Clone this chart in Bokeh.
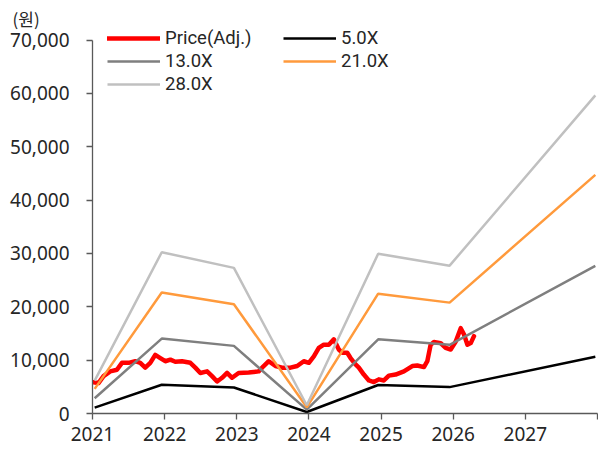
from bokeh.plotting import figure
from bokeh.models import (Range1d, FixedTicker, NumeralTickFormatter, Legend,
                          LegendItem)
from bokeh.embed import file_html
from bokeh.resources import INLINE

# Adjusted share price (KRW), sampled along fractional years
price_t = [2021.014, 2021.083, 2021.153, 2021.246, 2021.339, 2021.408, 2021.500,
           2021.593, 2021.662, 2021.731, 2021.801, 2021.870, 2021.940, 2022.009,
           2022.079, 2022.148, 2022.241, 2022.356, 2022.425, 2022.495, 2022.588,
           2022.657, 2022.727, 2022.796, 2022.865, 2022.935, 2023.026, 2023.165,
           2023.304, 2023.373, 2023.443, 2023.536, 2023.629, 2023.744, 2023.837,
           2023.929, 2023.999, 2024.068, 2024.137, 2024.206, 2024.276, 2024.345,
           2024.414, 2024.461, 2024.531, 2024.577, 2024.646, 2024.692, 2024.761,
           2024.831, 2024.900, 2024.969, 2025.039, 2025.108, 2025.201, 2025.316,
           2025.433, 2025.502, 2025.594, 2025.641, 2025.687, 2025.733, 2025.826,
           2025.895, 2025.965, 2026.035, 2026.104, 2026.150, 2026.197, 2026.243,
           2026.288]
price = [5860, 5700, 7000, 7900, 8200, 9500, 9500,
         9800, 9500, 8600, 9500, 11000, 10400, 9800,
         10100, 9700, 9800, 9500, 8600, 7600, 7900,
         7000, 6000, 6700, 7600, 6700, 7600, 7700,
         7900, 8900, 9800, 8900, 8600, 8600, 8900,
         9800, 9500, 10700, 12300, 12900, 12900, 13900,
         12000, 11400, 11400, 10400, 9200, 8600, 7300,
         6200, 5900, 6400, 6200, 7100, 7300, 7900,
         8900, 9000, 8700, 9800, 12900, 13400, 13200,
         12300, 12000, 13500, 16000, 14800, 12900, 13200,
         14500]

# PER band anchor points (fiscal year ends)
band_t = [2021.03, 2021.96, 2022.96, 2023.97, 2024.96, 2025.95, 2027.97]
band_5x = [1100, 5400, 4880, 280, 5350, 4950, 10650]
band_13x = [2860, 14040, 12680, 720, 13910, 12870, 27690]
band_21x = [4620, 22680, 20480, 1160, 22470, 20790, 44730]
band_28x = [6160, 30240, 27300, 1540, 29960, 27720, 59640]

year_ticks = [2021, 2022, 2023, 2024, 2025, 2026, 2027, 2028]
value_ticks = [0, 10000, 20000, 30000, 40000, 50000, 60000, 70000]
unit_text = "(원)"

FONT = "Noto Sans"
LEGEND_FONT = "Roboto"
CJK_FONT = "Noto Sans CJK KR"
TEXT = "#262626"
AXIS = "#595959"

# The plotting area runs above 70,000 so the legend has room; the value axis
# itself stops at 70,000.
p = figure(width=598, height=452, output_backend="svg", toolbar_location=None,
           x_range=Range1d(2021, 2028), y_range=Range1d(0, 72560),
           min_border_left=92, min_border_right=1, min_border_top=26,
           min_border_bottom=39, title=unit_text)
p.outline_line_color = None
p.xgrid.visible = False
p.ygrid.visible = False
p.background_fill_color = "white"
p.border_fill_color = "white"

p.title.align = "left"
p.title.offset = -84
p.title.standoff = -9
p.title.padding = (4, 0, 0, 0)
p.title.text_font = CJK_FONT
p.title.text_font_size = "17px"
p.title.text_font_style = "normal"
p.title.text_color = TEXT

r_price = p.line(price_t, price, line_color="#FF0000", line_width=4.5,
                 line_join="round", line_cap="round")
r5 = p.line(band_t, band_5x, line_color="#000000", line_width=2.5)
r13 = p.line(band_t, band_13x, line_color="#7F7F7F", line_width=2.5)
r21 = p.line(band_t, band_21x, line_color="#FF9A3C", line_width=2.5)
r28 = p.line(band_t, band_28x, line_color="#C0C0C0", line_width=2.5)

for ax in (p.xaxis[0], p.yaxis[0]):
    ax.axis_line_color = AXIS
    ax.axis_line_width = 1.3
    ax.major_tick_line_color = AXIS
    ax.major_tick_line_width = 1.3
    ax.major_tick_in = 0
    ax.major_tick_out = 6
    ax.minor_tick_line_color = None
    ax.major_label_text_font = FONT
    ax.major_label_text_font_size = "19px"
    ax.major_label_text_color = TEXT

p.xaxis.ticker = FixedTicker(ticks=year_ticks)
p.xaxis.major_label_overrides = {2028: ""}
p.xaxis.major_label_standoff = 7
p.yaxis.ticker = FixedTicker(ticks=value_ticks)
p.yaxis.formatter = NumeralTickFormatter(format="0,0")
p.yaxis.major_label_standoff = 17
p.yaxis.bounds = (0, 70000)

# One small legend per entry keeps the two-column grid in place
ROW_H = 22
FRAME_BOTTOM = 413


def legend_entry(label, renderer, left, center_y):
    bottom = FRAME_BOTTOM - (center_y + ROW_H / 2)
    return Legend(items=[LegendItem(label=label, renderers=[renderer])],
                  location=(left, bottom), orientation="vertical",
                  padding=0, margin=0, spacing=0,
                  glyph_width=53, glyph_height=ROW_H, label_height=ROW_H,
                  label_standoff=5,
                  label_text_font=LEGEND_FONT, label_text_font_size="18.5px",
                  label_text_color=TEXT,
                  background_fill_alpha=0, border_line_color=None)


p.add_layout(legend_entry("Price(Adj.)", r_price, 15, 38.3))
p.add_layout(legend_entry("13.0X", r13, 15, 61))
p.add_layout(legend_entry("28.0X", r28, 15, 83.5))
p.add_layout(legend_entry("5.0X", r5, 191, 38.3))
p.add_layout(legend_entry("21.0X", r21, 191, 61))

open("out.html", "w").write(file_html(p, INLINE))
